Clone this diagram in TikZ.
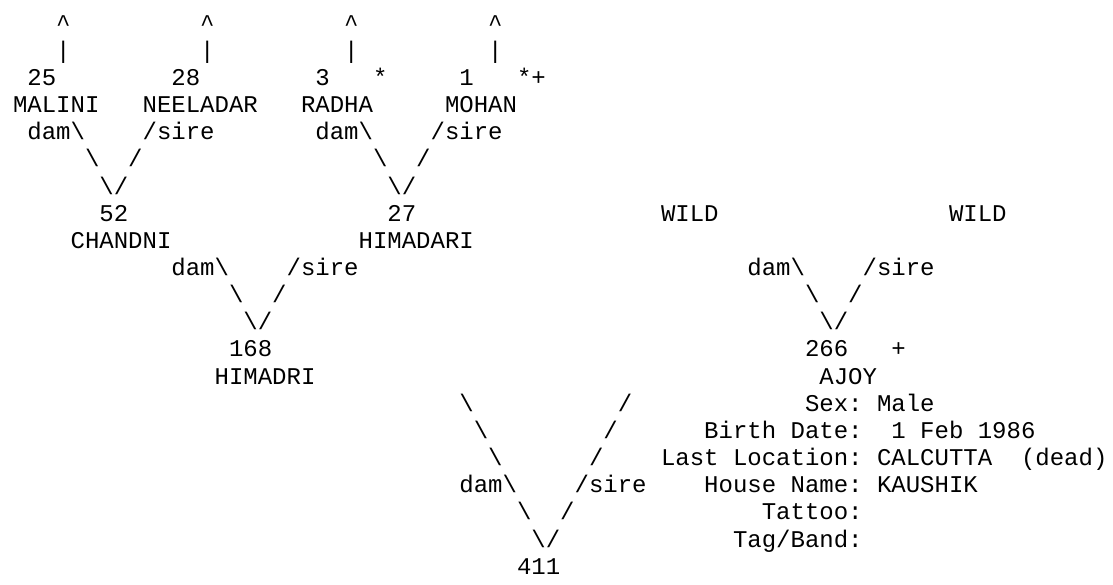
\documentclass[tikz,border=0pt]{standalone}
\usepackage{fontspec}
\setmonofont{Liberation Mono}
\tikzset{tok/.style={anchor=base west, inner sep=0pt, outer sep=0pt,
  font=\ttfamily\fontsize{24pt}{27pt}\selectfont, text=black}}
\newcommand{\tk}[4]{\node[tok] (#1) at ({13+14.4*(#2)},{553.8-27.15*((#3)-1)}) {#4};}
\newcommand{\bs}{\textbackslash}
\begin{document}
\begin{tikzpicture}[x=1pt,y=1pt]
\fill[white] (0,0) rectangle (1113,585);
\useasboundingbox (0,0) rectangle (1113,585);
% row 1-2
\tk{ca1}{3}{1}{\textasciicircum}
\tk{ca2}{13}{1}{\textasciicircum}
\tk{ca3}{23}{1}{\textasciicircum}
\tk{ca4}{33}{1}{\textasciicircum}
\tk{ba1}{3}{2}{|}
\tk{ba2}{13}{2}{|}
\tk{ba3}{23}{2}{|}
\tk{ba4}{33}{2}{|}
% row 3
\tk{n25}{1}{3}{25}
\tk{n28}{11}{3}{28}
\tk{n3}{21}{3}{3}
\tk{s3}{25}{3}{*}
\tk{n1}{31}{3}{1}
\tk{s1}{35}{3}{*+}
% row 4
\tk{malini}{0}{4}{MALINI}
\tk{neeladar}{9}{4}{NEELADAR}
\tk{radha}{20}{4}{RADHA}
\tk{mohan}{30}{4}{MOHAN}
% row 5-7
\tk{dam1}{1}{5}{dam\bs}
\tk{sire1}{9}{5}{/sire}
\tk{dam2}{21}{5}{dam\bs}
\tk{sire2}{29}{5}{/sire}
\tk{l1a}{5}{6}{\bs}
\tk{r1a}{8}{6}{/}
\tk{l2a}{25}{6}{\bs}
\tk{r2a}{28}{6}{/}
\tk{v1}{6}{7}{\bs/}
\tk{v2}{26}{7}{\bs/}
% row 8-9
\tk{n52}{6}{8}{52}
\tk{n27}{26}{8}{27}
\tk{wild1}{45}{8}{WILD}
\tk{wild2}{65}{8}{WILD}
\tk{chandni}{4}{9}{CHANDNI}
\tk{himadari}{24}{9}{HIMADARI}
% row 10-12
\tk{dam3}{11}{10}{dam\bs}
\tk{sire3}{19}{10}{/sire}
\tk{dam4}{51}{10}{dam\bs}
\tk{sire4}{59}{10}{/sire}
\tk{l3a}{15}{11}{\bs}
\tk{r3a}{18}{11}{/}
\tk{l4a}{55}{11}{\bs}
\tk{r4a}{58}{11}{/}
\tk{v3}{16}{12}{\bs/}
\tk{v4}{56}{12}{\bs/}
% row 13-14
\tk{n168}{15}{13}{168}
\tk{n266}{55}{13}{266}
\tk{p266}{61}{13}{+}
\tk{himadri}{14}{14}{HIMADRI}
\tk{ajoy}{56}{14}{AJOY}
% row 15-21
\tk{l5a}{31}{15}{\bs}
\tk{r5a}{42}{15}{/}
\tk{l5b}{32}{16}{\bs}
\tk{r5b}{41}{16}{/}
\tk{l5c}{33}{17}{\bs}
\tk{r5c}{40}{17}{/}
\tk{dam5}{31}{18}{dam\bs}
\tk{sire5}{39}{18}{/sire}
\tk{l5d}{35}{19}{\bs}
\tk{r5d}{38}{19}{/}
\tk{v5}{36}{20}{\bs/}
\tk{n411}{35}{21}{411}
% info block
\tk{sex}{55}{15}{Sex: Male}
\tk{birth}{48}{16}{Birth Date:}
\tk{birthv}{61}{16}{1 Feb 1986}
\tk{loc}{45}{17}{Last Location: CALCUTTA}
\tk{dead}{70}{17}{(dead)}
\tk{house}{48}{18}{House Name: KAUSHIK}
\tk{tattoo}{52}{19}{Tattoo:}
\tk{tag}{50}{20}{Tag/Band:}
\end{tikzpicture}
\end{document}
